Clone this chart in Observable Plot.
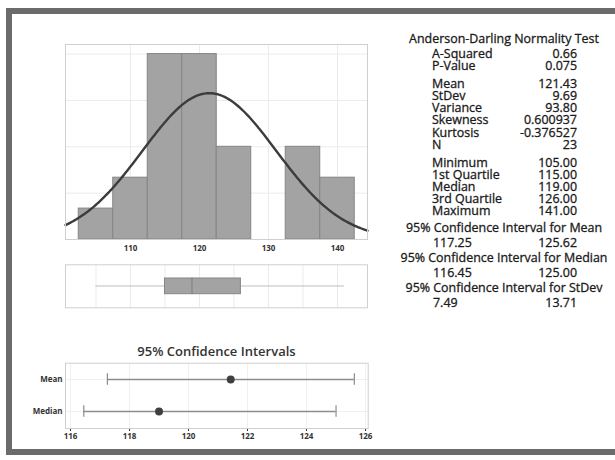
<!DOCTYPE html>
<html>
<head>
<meta charset="utf-8">
<script src="https://cdn.jsdelivr.net/npm/d3@7"></script>
<script src="https://cdn.jsdelivr.net/npm/@observablehq/plot@0.6"></script>
<style>
  html, body { margin: 0; padding: 0; background: #fff; }
  #root { position: relative; width: 615px; height: 460px; overflow: hidden; background: #fff; font-family: "Open Sans", sans-serif; }
  #border { position: absolute; left: 6px; top: 8px; width: 640px; height: 435px; border: 6px solid #6b6b6b; background: #fff; }
  .abs { position: absolute; }
  #ciTitle { position: absolute; left: 65px; width: 303px; top: 342px; text-align: center; font-size: 13px; font-weight: 600; color: #333; }
</style>
</head>
<body>
<div id="root">
  <div id="border"></div>
  <div id="hist" class="abs" style="left:0;top:0"></div>
  <div id="box" class="abs" style="left:0;top:255px"></div>
  <div id="ciTitle">95% Confidence Intervals</div>
  <div id="ci" class="abs" style="left:0;top:355px"></div>
  <div id="stats" class="abs" style="left:380px;top:0"></div>
</div>
<script>
// ---- Data ----
const binStarts = [102.5, 107.5, 112.5, 117.5, 122.5, 127.5, 132.5, 137.5];
const binWidth = 5;
const binCounts = [1, 2, 6, 6, 3, 0, 3, 2];
const histTicks = [110, 120, 130, 140];
const histGridY = [1.5, 3, 4.5, 6];
const boxGridX = [105, 110, 115, 120, 125, 130, 135, 140];

const adLabels = ["A-Squared", "P-Value"];
const adValues = ["0.66", "0.075"];
const momentLabels = ["Mean", "StDev", "Variance", "Skewness", "Kurtosis", "N"];
const momentValues = ["121.43", "9.69", "93.80", "0.600937", "-0.376527", "23"];
const quantLabels = ["Minimum", "1st Quartile", "Median", "3rd Quartile", "Maximum"];
const quantValues = ["105.00", "115.00", "119.00", "126.00", "141.00"];
const ciHeadings = ["95% Confidence Interval for Mean", "95% Confidence Interval for Median", "95% Confidence Interval for StDev"];
const ciLows = [117.25, 116.45, 7.49];
const ciHighs = [125.62, 125.00, 13.71];

const mean = 121.43, stdev = 9.69, nObs = 23;
const minimum = 105, q1 = 115, median = 119, q3 = 126, maximum = 141;
const ciRows = ["Mean", "Median"];
const ciCenters = [121.43, 119.00];
const ciTicks = [116, 118, 120, 122, 124, 126];

// ---- Shared style ----
const tickStyle = {fontFamily: "Open Sans", fontSize: "8px", fontWeight: "bold", color: "#333", background: "transparent", overflow: "visible"};
const xDomain = [100.58, 144.35];

// Histogram
const bins = binStarts.map((s, i) => ({x1: s, x2: s + binWidth, count: binCounts[i]}));
const scaleK = nObs * binWidth / (stdev * Math.sqrt(2 * Math.PI));
const curve = d3.range(0, 201).map(i => {
  const x = xDomain[0] + (xDomain[1] - xDomain[0]) * i / 200;
  return {x, y: scaleK * Math.exp(-0.5 * ((x - mean) / stdev) ** 2)};
});

document.getElementById("hist").append(Plot.plot({
  width: 380, height: 260,
  marginLeft: 65, marginRight: 13, marginTop: 44, marginBottom: 21,
  style: tickStyle,
  x: {domain: xDomain, ticks: histTicks, tickSize: 0, tickPadding: 6, label: null},
  y: {domain: [0, 6.31], axis: null},
  marks: [
    Plot.ruleX(histTicks, {stroke: "#ebebeb", strokeWidth: 1, strokeOpacity: 1}),
    Plot.ruleY(histGridY, {stroke: "#ebebeb", strokeWidth: 1, strokeOpacity: 1}),
    Plot.rectY(bins, {x1: "x1", x2: "x2", y: "count", fill: "#a3a3a3", stroke: "#858585", strokeWidth: 1}),
    Plot.line(curve, {x: "x", y: "y", stroke: "#3c3c3c", strokeWidth: 2.4}),
    Plot.frame({stroke: "#cfcfcf"})
  ]
}));

// Boxplot
const boxParts = [{lo: q1, hi: median, g: "box"}, {lo: median, hi: q3, g: "box"}];
document.getElementById("box").append(Plot.plot({
  width: 380, height: 60,
  marginLeft: 65, marginRight: 13, marginTop: 9.3, marginBottom: 7.7,
  style: tickStyle,
  x: {domain: xDomain, axis: null},
  y: {domain: ["box"], type: "band", padding: 0, axis: null},
  marks: [
    Plot.ruleX(boxGridX, {stroke: "#ebebeb"}),
    Plot.ruleY([{lo: minimum, hi: maximum, g: "box"}], {y: "g", x1: "lo", x2: "hi", stroke: "#bdbdbd", strokeWidth: 1}),
    Plot.barX(boxParts, {y: "g", x1: "lo", x2: "hi", fill: "#a3a3a3", stroke: "#858585", insetTop: 14, insetBottom: 13.3, insetLeft: 0, insetRight: 0}),
    Plot.frame({stroke: "#cfcfcf"})
  ]
}));

// CI panel
const ciData = ciRows.map((r, i) => ({row: r, lo: ciLows[i], hi: ciHighs[i], c: ciCenters[i]}));
const ciEnds = ciData.flatMap(d => [{row: d.row, v: d.lo}, {row: d.row, v: d.hi}]);
document.getElementById("ci").append(Plot.plot({
  width: 380, height: 95,
  marginLeft: 65, marginRight: 12.3, marginTop: 7.7, marginBottom: 22,
  style: tickStyle,
  x: {domain: [115.83, 126.09], ticks: ciTicks, tickSize: 3, tickPadding: 2, label: null},
  y: {domain: ciRows, type: "band", padding: 0, tickSize: 0, tickPadding: 3, label: null},
  marks: [
    Plot.ruleX(ciTicks, {stroke: "#f0f0f0"}),
    Plot.ruleY(ciRows, {y: d => d, stroke: "#f0f0f0"}),
    Plot.ruleY(ciData, {y: "row", x1: "lo", x2: "hi", stroke: "#8c8c8c", strokeWidth: 1.4}),
    Plot.tickX(ciEnds, {x: "v", y: "row", stroke: "#8c8c8c", strokeWidth: 1.2, insetTop: 10.3, insetBottom: 10.3}),
    Plot.dot(ciData, {x: "c", y: "row", r: 4, fill: "#3f3f3f", stroke: "none"}),
    Plot.frame({stroke: "#cfcfcf"})
  ]
}));

// Stats text panel
const W = 235, H = 320;
const svg = d3.create("svg").attr("width", W).attr("height", H)
  .style("font-family", "Open Sans").style("font-size", "12px")
  .style("fill", "#1a1a1a").style("stroke", "#1a1a1a").style("stroke-width", "0.3px")
  .style("overflow", "visible");
const labelX = 52, valueX = 197, centerX = 124;
let firstHeading = null;
function heading(txt, y) {
  const t = svg.append("text").attr("x", centerX).attr("y", y).attr("text-anchor", "middle").text(txt);
  if (!firstHeading) firstHeading = t.node();
}
function rows(labels, values, y0, dy) {
  labels.forEach((l, i) => {
    svg.append("text").attr("x", labelX).attr("y", y0 + i * dy).text(l);
    svg.append("text").attr("x", valueX).attr("y", y0 + i * dy).attr("text-anchor", "end").text(values[i]);
  });
}
heading("Anderson-Darling Normality Test", 43);
rows(adLabels, adValues, 57.7, 12.3);
rows(momentLabels, momentValues, 87.7, 12.26);
rows(quantLabels, quantValues, 167.3, 11.93);
const ciHeadY = [231.7, 261.7, 291.7];
ciHeadings.forEach((h, i) => {
  heading(h, ciHeadY[i]);
  svg.append("text").attr("x", labelX + 1).attr("y", ciHeadY[i] + 14.8).text(ciLows[i].toFixed(2));
  svg.append("text").attr("x", valueX).attr("y", ciHeadY[i] + 14.8).attr("text-anchor", "end").text(ciHighs[i].toFixed(2));
});
document.getElementById("stats").append(svg.node());
// fit font size so the first heading spans the same width as in the reference (~190px)
const w0 = firstHeading.getComputedTextLength();
if (w0 > 0) svg.style("font-size", (12 * 190 / w0).toFixed(2) + "px");
</script>
</body>
</html>
